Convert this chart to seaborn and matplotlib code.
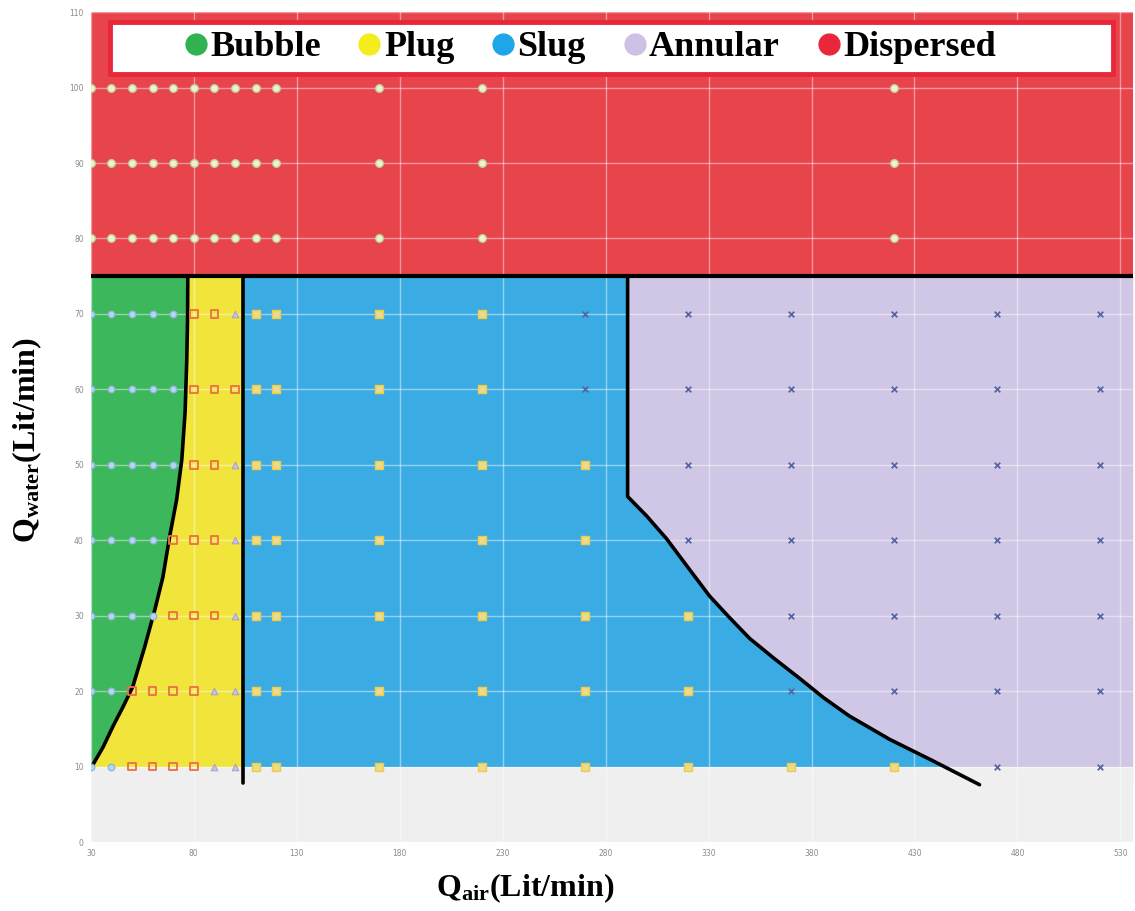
import numpy as np
import pandas as pd
import matplotlib
matplotlib.use("Agg")
import matplotlib.pyplot as plt
import seaborn as sns
from matplotlib.patches import Rectangle
from matplotlib.lines import Line2D

# ---------------- data ----------------
x_ticks = [30, 80, 130, 180, 230, 280, 330, 380, 430, 480, 530]
y_ticks = [0, 10, 20, 30, 40, 50, 60, 70, 80, 90, 100, 110]

q_air = [30, 40, 50, 60, 70, 80, 90, 100, 110, 120, 170, 220, 270, 320, 370, 420, 470, 520]
q_water_rows = [10, 20, 30, 40, 50, 60, 70]
# B=bubble, P=plug, T=plug/slug transition, S=slug, A=annular
codes_w10 = "BBPPPPTTSSSSSSSSAA"
codes_w20 = "BBPPPPTTSSSSSSAAAA"
codes_w30 = "BBBBPPPTSSSSSSAAAA"
codes_w40 = "BBBBPPPTSSSSSAAAAA"
codes_w50 = "BBBBBPPTSSSSSAAAAA"
codes_w60 = "BBBBBPPPSSSSAAAAAA"
codes_w70 = "BBBBBPPTSSSSAAAAAA"
row_codes = [codes_w10, codes_w20, codes_w30, codes_w40, codes_w50, codes_w60, codes_w70]

disp_air = [30, 40, 50, 60, 70, 80, 90, 100, 110, 120, 170, 220, 420]
disp_water = [80, 90, 100]

# regime boundaries
bubble_x = [30.5, 36.0, 40.7, 45.8, 50.4, 56.2, 61.1, 65.0, 68.3, 71.7, 74.2, 75.8, 76.6, 77.0, 77.1]
bubble_y = [10.0, 12.6, 15.3, 18.0, 20.6, 25.9, 30.8, 35.1, 40.5, 45.4, 50.7, 57.0, 63.9, 69.5, 75.0]
plug_slug_x = 104
plug_slug_y = [7.8, 75]
annular_x = [290.7, 290.7, 300.0, 309.6, 320.0, 330.5, 340.0, 349.9, 362.0, 374.2, 386.0, 398.4, 418.0, 438.7, 461.6]
annular_y = [75.0, 45.8, 43.2, 40.2, 36.4, 32.6, 29.8, 27.0, 24.3, 21.7, 19.1, 16.7, 13.6, 10.8, 7.6]
dispersed_y = 75
lower_limit_y = 10

legend_labels = ["Bubble", "Plug", "Slug", "Annular", "Dispersed"]
legend_colors = ["#2fb24f", "#f5ec1c", "#1ea6e8", "#cdc1e6", "#e8283a"]

# ---------------- build point table ----------------
recs = []
for yw, codes in zip(q_water_rows, row_codes):
    for xa, c in zip(q_air, codes):
        recs.append((xa, yw, c))
for yw in disp_water:
    for xa in disp_air:
        recs.append((xa, yw, "D"))
pts = pd.DataFrame(recs, columns=["Qair", "Qwater", "code"])

# ---------------- style ----------------
sns.set_style("white")
plt.rcParams["font.family"] = ["Liberation Serif", "DejaVu Serif"]
plt.rcParams["mathtext.fontset"] = "custom"
plt.rcParams["mathtext.rm"] = "Liberation Serif:bold"
plt.rcParams["mathtext.bf"] = "Liberation Serif:bold"
plt.rcParams["mathtext.it"] = "Liberation Serif:bold"
plt.rcParams["text.color"] = "black"
plt.rcParams["axes.labelcolor"] = "black"

fig = plt.figure(figsize=(11.35, 9.11), dpi=100)
ax = fig.add_axes([0.080, 0.0757, 0.918, 0.911])
xmin, xmax = 30, 536
ymin, ymax = 0, 110
ax.set_xlim(xmin, xmax)
ax.set_ylim(ymin, ymax)
ax.set_facecolor("#efefef")

c_green = "#3db75c"
c_yellow = "#f1e53c"
c_blue = "#3aace3"
c_lav = "#d0c6e5"
c_red = "#e8444c"

# regions
ax.fill_between([plug_slug_x, xmax], lower_limit_y, dispersed_y, color=c_blue, lw=0, zorder=1)
ax.fill_betweenx(annular_y, annular_x, xmax, color=c_lav, lw=0, zorder=1)
ax.fill_betweenx(bubble_y, xmin, bubble_x, color=c_green, lw=0, zorder=1)
ax.fill_betweenx(bubble_y, bubble_x, plug_slug_x, color=c_yellow, lw=0, zorder=1)
ax.axhspan(dispersed_y, ymax, color=c_red, lw=0, zorder=1)
ax.axhspan(ymin, lower_limit_y, color="#efefef", lw=0, zorder=1.1)

# grid
ax.set_xticks(x_ticks)
ax.set_yticks(y_ticks)
ax.grid(True, color="white", lw=1.0, alpha=0.45)
ax.set_axisbelow("line")
for s in ax.spines.values():
    s.set_visible(False)
ax.tick_params(length=0, labelsize=5.5, labelcolor="#8a8a8a", pad=5)
for lab in ax.get_xticklabels() + ax.get_yticklabels():
    lab.set_fontfamily("DejaVu Sans")

# boundaries
ax.plot(bubble_x, bubble_y, color="black", lw=2.6, zorder=4, solid_capstyle="butt")
ax.plot([plug_slug_x, plug_slug_x], plug_slug_y, color="black", lw=2.6, zorder=4)
ax.plot(annular_x, annular_y, color="black", lw=2.6, zorder=4)
ax.axhline(dispersed_y, color="black", lw=3, zorder=4)

# measured points
sel = pts[pts.code == "B"]
sns.scatterplot(data=sel, x="Qair", y="Qwater", ax=ax, marker="o", s=22,
                facecolor="#b8d6ee", edgecolor="#8fb6e0", linewidth=1.0, zorder=5, legend=False)
sel = pts[pts.code == "P"]
sns.scatterplot(data=sel, x="Qair", y="Qwater", ax=ax, marker="s", s=30,
                facecolor="none", edgecolor="#ec6f45", linewidth=1.3, zorder=5, legend=False)
sel = pts[pts.code == "T"]
sns.scatterplot(data=sel, x="Qair", y="Qwater", ax=ax, marker="^", s=22,
                facecolor="#c9c3e4", edgecolor="#a9a3d4", linewidth=0.8, zorder=5, legend=False)
sel = pts[pts.code == "S"]
sns.scatterplot(data=sel, x="Qair", y="Qwater", ax=ax, marker="s", s=34,
                facecolor="#e9dc8a", edgecolor="#f3c94a", linewidth=1.0, zorder=5, legend=False)
sel = pts[pts.code == "A"]
sns.scatterplot(data=sel, x="Qair", y="Qwater", ax=ax, marker="x", s=16,
                color="#5566a6", linewidth=1.3, zorder=5, legend=False)
sel = pts[pts.code == "D"]
sns.scatterplot(data=sel, x="Qair", y="Qwater", ax=ax, marker="o", s=30,
                facecolor="#f3f0cf", edgecolor="#b9d29a", linewidth=1.0, zorder=5, legend=False)

# legend box
box = Rectangle((0.018, 0.925), 0.963, 0.063, transform=ax.transAxes,
                facecolor="white", edgecolor="#e8283a", lw=3.5, zorder=6)
ax.add_patch(box)
handles = [Line2D([], [], marker="o", ls="", markersize=15, markerfacecolor=c,
                  markeredgecolor=c) for c in legend_colors]
leg = ax.legend(handles, legend_labels, loc="center", bbox_to_anchor=(0.476, 0.957),
                ncol=5, frameon=False, handletextpad=-0.1, columnspacing=0.85,
                prop={"family": "Liberation Serif", "weight": "bold", "size": 26},
                handlelength=1.0, borderaxespad=0, labelcolor="black")
leg.set_zorder(7)

ax.set_xlabel(r"Q$_{\mathrm{air}}$(Lit/min)", fontsize=23, fontweight="bold", color="black")
ax.set_ylabel(r"Q$_{\mathrm{water}}$(Lit/min)", fontsize=23, fontweight="bold", color="black")
ax.xaxis.set_label_coords(0.417, -0.036)
ax.yaxis.set_label_coords(-0.045, 0.484)

fig.savefig("out.png", dpi=100)
